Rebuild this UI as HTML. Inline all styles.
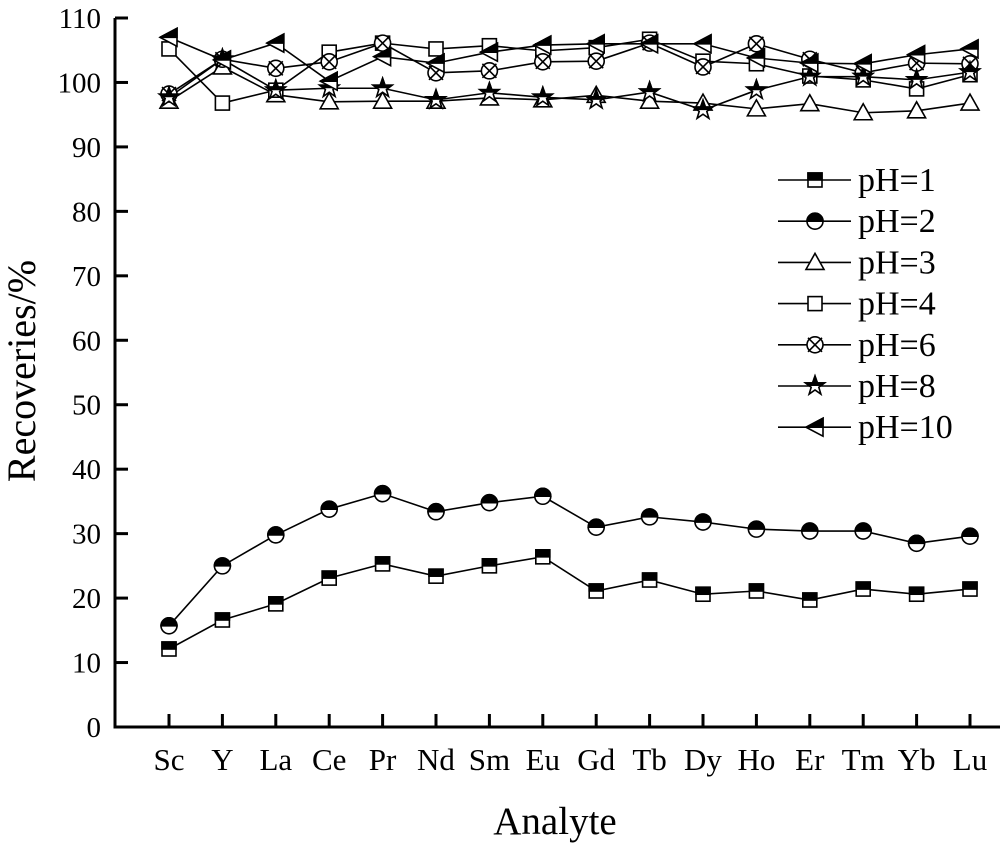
<!DOCTYPE html>
<html><head><meta charset="utf-8"><style>
html,body{margin:0;padding:0;background:#fff;}
svg text{font-family:"Liberation Serif",serif;fill:#000;}
</style></head><body>
<svg id="chart" width="1000" height="844" viewBox="0 0 1000 844" xmlns="http://www.w3.org/2000/svg">
<defs>
<clipPath id="topHalf"><rect x="-20" y="-20" width="40" height="20"/></clipPath>
</defs>
<g id="axes"></g>
<g id="series"></g>
<g id="legend"></g>
</svg>
<script>
const categories=["Sc","Y","La","Ce","Pr","Nd","Sm","Eu","Gd","Tb","Dy","Ho","Er","Tm","Yb","Lu"];
const yTicks=[0,10,20,30,40,50,60,70,80,90,100,110];
const seriesNames=["pH=1","pH=2","pH=3","pH=4","pH=6","pH=8","pH=10"];
const pH1=[12.1,16.6,19.1,23.1,25.3,23.4,25.0,26.4,21.1,22.8,20.6,21.1,19.7,21.4,20.6,21.4];
const pH2=[15.7,25.0,29.8,33.8,36.2,33.4,34.8,35.8,31.0,32.6,31.8,30.7,30.4,30.4,28.5,29.6];
const pH3=[97.1,102.4,98.1,97.0,97.1,97.1,97.6,97.3,98.0,97.1,96.8,95.9,96.7,95.3,95.6,96.8];
const pH4=[105.2,96.8,98.8,104.7,106.1,105.2,105.7,104.9,105.4,106.7,103.3,102.9,101.0,100.4,99.0,101.2];
const pH6=[98.2,103.6,102.2,103.2,106.1,101.5,101.8,103.2,103.3,106.1,102.4,106.0,103.6,101.5,103.0,102.9];
const pH8=[97.7,103.6,98.8,99.1,99.1,97.3,98.4,97.7,97.3,98.5,95.7,98.8,100.9,100.9,100.4,101.6];
const pH10=[107.0,103.5,106.1,100.2,104.0,103.0,104.7,105.8,106.0,106.0,106.0,103.8,103.0,102.9,104.3,105.2];
const allSeries=[pH1,pH2,pH3,pH4,pH6,pH8,pH10];
const markers=["halfsquare","halfcircle","triangle","square","xcircle","star","lefttri"];

const NS="http://www.w3.org/2000/svg";
const X0=115,Y0=727,YTOP=18;
function xPos(i){return 169+i*(970-169)/(categories.length-1);}
function yPos(v){return Y0-(v/110)*(Y0-YTOP);}
function mk(tag,attrs,parent){const e=document.createElementNS(NS,tag);for(const k in attrs)e.setAttribute(k,attrs[k]);parent.appendChild(e);return e;}

const axes=document.getElementById('axes');
const yAxis=mk('path',{d:`M${X0} ${YTOP} V${Y0} H1000`,stroke:'#000','stroke-width':3,fill:'none'},axes);


yTicks.forEach(v=>{
  const t=mk('line',{x1:X0,x2:X0+13,y1:yPos(v),y2:yPos(v),stroke:'#000','stroke-width':3},axes);
  
  
  const l=mk('text',{x:X0-14,y:yPos(v)+10,'text-anchor':'end','font-size':29},axes);
  l.textContent=v;
  
  
});
categories.forEach((c,i)=>{
  const t=mk('line',{x1:xPos(i),x2:xPos(i),y1:Y0,y2:Y0-13,stroke:'#000','stroke-width':3},axes);
  
  
  const l=mk('text',{x:xPos(i),y:770,'text-anchor':'middle','font-size':31},axes);
  l.textContent=c;
  
  
});
const xt=mk('text',{x:555,y:834,'text-anchor':'middle','font-size':39},axes);
xt.textContent='Analyte';


const yt=mk('text',{x:0,y:0,'text-anchor':'middle','font-size':40,transform:'translate(35,371) rotate(-90)'},axes);
yt.textContent='Recoveries/%';



function drawMarker(type,x,y,parent){
  const g=mk('g',{transform:`translate(${x},${y})`},parent);
  const s={stroke:'#000','stroke-width':1.6};
  if(type==='halfsquare'){
    mk('rect',{x:-7,y:-7,width:14,height:14,fill:'#fff',...s},g);
    mk('rect',{x:-7,y:-7,width:14,height:7,fill:'#000',...s},g);
  }else if(type==='square'){
    mk('rect',{x:-7,y:-7,width:14,height:14,fill:'#fff',...s},g);
  }else if(type==='halfcircle'){
    mk('circle',{r:8,fill:'#fff',...s},g);
    mk('path',{d:'M-8 0 A8 8 0 0 1 8 0 Z',fill:'#000',...s},g);
  }else if(type==='triangle'){
    mk('path',{d:'M0 -9 L9 7 L-9 7 Z',fill:'#fff',...s},g);
  }else if(type==='xcircle'){
    mk('circle',{r:8,fill:'#fff',...s},g);
    mk('path',{d:'M-7 -7 L7 7 M7 -7 L-7 7',fill:'none',...s},g);
  }else if(type==='star'){
    const pts=[];for(let k=0;k<10;k++){const r=k%2?4:10;const a=-Math.PI/2+k*Math.PI/5;pts.push((r*Math.cos(a)).toFixed(2)+','+(r*Math.sin(a)).toFixed(2));}
    mk('polygon',{points:pts.join(' '),fill:'#fff',...s},g);
    mk('polygon',{points:pts.join(' '),fill:'#000','clip-path':'url(#topHalf)',...s},g);
  }else if(type==='lefttri'){
    mk('path',{d:'M-9 0 L8 -9 L8 9 Z',fill:'#fff',...s},g);
    mk('path',{d:'M-9 0 L8 -9 L8 0 Z',fill:'#000',...s},g);
  }
  return g;
}

const sg=document.getElementById('series');
allSeries.forEach((vals,si)=>{
  const g=mk('g',{},sg);
  
  
  const p=mk('polyline',{points:vals.map((v,i)=>xPos(i)+','+yPos(v)).join(' '),fill:'none',stroke:'#000','stroke-width':1.6},g);
  
  
});
allSeries.forEach((vals,si)=>{
  vals.forEach((v,i)=>{
    const m=drawMarker(markers[si],xPos(i),yPos(v),sg);
    
    
  });
});

const lg=document.getElementById('legend');


seriesNames.forEach((n,i)=>{
  const y=180+i*41.2;
  const g=mk('g',{},lg);
  
  
  mk('line',{x1:778,x2:851,y1:y,y2:y,stroke:'#000','stroke-width':1.6},g);
  drawMarker(markers[i],815,y,g);
  const t=mk('text',{x:858,y:y+11,'font-size':34},g);
  t.textContent=n;
});
</script>
</body></html>
